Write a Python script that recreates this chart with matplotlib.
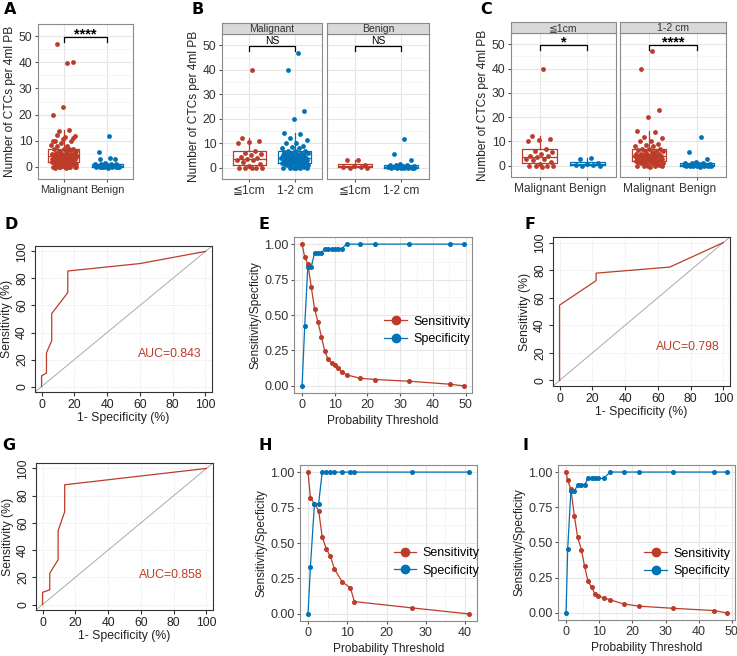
import numpy as np
import matplotlib
matplotlib.use("Agg")
import matplotlib.pyplot as plt
from matplotlib.ticker import MultipleLocator

plt.rcParams['font.family'] = ['Liberation Sans', 'DejaVu Sans']

RED = '#BC3C29'
BLUE = '#0072B5'
W, H = 737, 656

# CTC counts (per 4 ml PB)
mal_small = [39.7, 12.3, 11.0, 10.5, 10.0, 7.0, 6.2, 5.5, 5.0, 4.2, 4.0, 3.5,
             3.0, 3.0, 2.2, 1.5, 0.8, 0.0, 0.0, 0.0, 0.0, -0.3]
mal_mid = [47.0, 40.0, 23.0, 20.0, 14.3, 13.8, 12.0, 11.5, 10.0, 10.0, 9.0, 8.5,
           8.0, 8.0, 7.0, 7.0, 7.0, 6.5, 6.0, 6.0, 6.0, 5.5, 5.0, 5.0, 5.0, 5.0,
           5.0, 4.5, 4.0, 4.0, 4.0, 4.0, 4.0, 4.0, 4.0, 3.5, 3.0, 3.0, 3.0, 3.0,
           3.0, 3.0, 3.0, 2.5, 2.0, 2.0, 2.0, 2.0, 2.0, 2.0, 2.0, 1.5, 1.0, 1.0,
           1.0, 1.0, 1.0, 0.5, 0.0, 0.0, 0.0, 0.0, 0.0, -0.3]
ben_small = [3.3, 3.0, 1.0, 0.8, 0.5, 0.2, 0.0, -0.2]
ben_mid = [11.7, 5.8, 3.0, 1.4, 1.2, 1.0, 1.0, 0.9, 0.7, 0.5, 0.5, 0.4, 0.3,
           0.2, 0.1, 0.0, 0.0, 0.0, 0.0, -0.1, -0.2, -0.3]

# ROC curves: (1 - specificity, sensitivity) in %
roc_d_fpr = [0, 0, 3, 3, 6.2, 6.2, 16, 16, 60, 100]
roc_d_tpr = [0, 8, 10, 25, 34, 54, 69.5, 85.5, 91, 100]
roc_f_fpr = [0, 0, 22.3, 22.3, 67.3, 100]
roc_f_tpr = [0, 54.6, 72.4, 77.8, 82.2, 100]
roc_g_fpr = [0, 0, 4.4, 4.4, 9.5, 9.5, 13.5, 13.5, 100]
roc_g_tpr = [0, 9, 10.8, 23, 33, 54.3, 68.2, 88, 100]

# threshold curves
e_thr = [0, 0.8, 1.75, 2.8, 3.8, 4.85, 5.9, 6.9, 7.9, 9.0, 10.0, 11.0, 12.1,
         13.6, 17.8, 22.4, 32.8, 45.2, 49.5]
e_sens = [1.0, 0.908, 0.859, 0.70, 0.544, 0.452, 0.348, 0.247, 0.19, 0.16, 0.148,
          0.125, 0.10, 0.078, 0.054, 0.045, 0.033, 0.012, 0.0]
e_spec = [0.0, 0.42, 0.84, 0.84, 0.936, 0.936, 0.936, 0.967, 0.967, 0.967, 0.967,
          0.967, 0.967, 1.0, 1.0, 1.0, 1.0, 1.0, 1.0]
h_thr = [0, 0.6, 1.64, 2.7, 3.6, 4.7, 5.7, 6.7, 8.7, 10.8, 11.8, 26.6, 41.0]
h_sens = [1.0, 0.82, 0.776, 0.729, 0.544, 0.455, 0.407, 0.318, 0.226, 0.184,
          0.087, 0.042, 0.0]
h_spec = [0.0, 0.333, 0.778, 0.778, 1.0, 1.0, 1.0, 1.0, 1.0, 1.0, 1.0, 1.0, 1.0]
i_thr = [0, 0.5, 1.45, 2.5, 3.5, 4.6, 5.6, 6.6, 7.7, 8.7, 9.75, 11.3, 13.3,
         17.4, 22.1, 32.3, 44.6, 48.5]
i_sens = [1.0, 0.94, 0.88, 0.69, 0.536, 0.45, 0.33, 0.226, 0.183, 0.136, 0.121,
          0.107, 0.093, 0.064, 0.048, 0.033, 0.017, 0.0]
i_spec = [0.0, 0.455, 0.864, 0.864, 0.909, 0.909, 0.909, 0.955, 0.955, 0.955,
          0.955, 0.955, 1.0, 1.0, 1.0, 1.0, 1.0, 1.0]

fig = plt.figure(figsize=(W / 100, H / 100), dpi=100)


def px_axes(x0, y0, x1, y1):
    return fig.add_axes([x0 / W, 1 - y1 / H, (x1 - x0) / W, (y1 - y0) / H])


def gg_style(ax, fs=8.5):
    ax.set_facecolor('white')
    ax.set_axisbelow(True)
    ax.grid(which='major', color='#E6E6E6', lw=0.8)
    ax.grid(which='minor', color='#F2F2F2', lw=0.5)
    for s in ax.spines.values():
        s.set_color('#8a8a8a')
        s.set_linewidth(0.8)
    ax.tick_params(which='major', length=2.5, color='#555555', labelsize=fs,
                   labelcolor='#333333', pad=1.5)
    ax.tick_params(which='minor', length=0)


def strip(x0, x1, y0, y1, label):
    sa = px_axes(x0, y0, x1, y1)
    sa.set_facecolor('#D9D9D9')
    sa.set_xticks([])
    sa.set_yticks([])
    for s in sa.spines.values():
        s.set_color('#8a8a8a')
        s.set_linewidth(0.8)
    sa.text(0.5, 0.45, label, ha='center', va='center', fontsize=7.5,
            color='#333333', transform=sa.transAxes)


def jitter_box(ax, groups, colors, labels, show_y=True, xfs=8.6):
    for k, (vals, col) in enumerate(zip(groups, colors)):
        pos = k + 1
        ax.boxplot([vals], positions=[pos], widths=0.72, showfliers=False,
                   showcaps=False, manage_ticks=False,
                   boxprops=dict(color=col, lw=0.9),
                   medianprops=dict(color=col, lw=0.9),
                   whiskerprops=dict(color=col, lw=0.9))
        n = len(vals)
        offs = [(((i + 1) * 0.6180339887) % 1 - 0.5) * 0.6 for i in range(n)]
        ax.scatter(np.array(offs) + pos, vals, s=12, color=col, lw=0, zorder=3)
    ax.set_xlim(0.4, 2.6)
    ax.set_ylim(-4.6, 54.6)
    ax.set_xticks([1, 2])
    ax.set_xticklabels(labels)
    ax.yaxis.set_major_locator(MultipleLocator(10))
    ax.yaxis.set_minor_locator(MultipleLocator(5))
    gg_style(ax, fs=8.7)
    ax.grid(which='major', axis='x', color='#E6E6E6', lw=0.8)
    ax.tick_params(axis='x', labelsize=xfs, labelcolor='#333333')
    if not show_y:
        ax.tick_params(axis='y', labelleft=False, length=0)


def bracket(ax, text, fs=10):
    ax.plot([1, 1, 2, 2], [47.8, 49.6, 49.6, 47.8], color='black', lw=0.9)
    if text == 'NS':
        ax.text(1.5, 50.4, text, ha='center', va='baseline', fontsize=fs,
                color='black')
    else:
        ax.text(1.5, 48.9, text, ha='center', va='baseline', fontsize=fs,
                color='black', fontweight='bold')


YL = 'Number of CTCs per 4ml PB'

# A
ax = px_axes(38, 24, 133, 179)
jitter_box(ax, [mal_small + mal_mid, ben_small + ben_mid], [RED, BLUE],
           ['Malignant', 'Benign'], xfs=7.9)
bracket(ax, '****', fs=10.5)
ax.set_ylabel(YL, fontsize=8.6, color='#222222', labelpad=2)

# B
ax = px_axes(222, 34, 322, 179)
jitter_box(ax, [mal_small, mal_mid], [RED, BLUE], ['≦1cm', '1-2 cm'])
bracket(ax, 'NS', fs=7.5)
ax.set_ylabel(YL, fontsize=8.6, color='#222222', labelpad=2)
strip(222, 322, 23, 34, 'Malignant')
ax = px_axes(327, 34, 429, 179)
jitter_box(ax, [ben_small, ben_mid], [RED, BLUE], ['≦1cm', '1-2 cm'], show_y=False)
bracket(ax, 'NS', fs=7.5)
strip(327, 429, 23, 34, 'Benign')

# C
ax = px_axes(511, 33, 616, 177)
jitter_box(ax, [mal_small, ben_small], [RED, BLUE], ['Malignant', 'Benign'])
bracket(ax, '*', fs=10.5)
ax.set_ylabel(YL, fontsize=8.6, color='#222222', labelpad=2)
strip(511, 616, 22, 33, '≦1cm')
ax = px_axes(620, 33, 726, 177)
jitter_box(ax, [mal_mid, ben_mid], [RED, BLUE], ['Malignant', 'Benign'], show_y=False)
bracket(ax, '****', fs=10.5)
strip(620, 726, 22, 33, '1-2 cm')


def roc_panel(rect, fpr, tpr, auc, ty):
    ax = px_axes(*rect)
    ax.plot(fpr, tpr, color=RED, lw=0.9, zorder=3)
    ax.axline((0, 0), (100, 100), color='#AAAAAA', lw=0.7, zorder=2)
    ax.set_xlim(-4, 104)
    ax.set_ylim(-4, 104)
    ticks = [0, 20, 40, 60, 80, 100]
    ax.set_xticks(ticks)
    ax.set_yticks(ticks)
    ax.grid(color='#DDDDDD', lw=0.6, ls=':')
    ax.set_axisbelow(True)
    for s in ax.spines.values():
        s.set_color('#333333')
        s.set_linewidth(0.8)
    ax.tick_params(length=3, color='#333333', labelsize=8.8, labelcolor='#222222', pad=2)
    for lab in ax.get_yticklabels():
        lab.set_rotation(90)
        lab.set_va('center')
    ax.set_xlabel('1- Specificity (%)', fontsize=8.8, color='#222222', labelpad=1)
    ax.set_ylabel('Sensitivity (%)', fontsize=8.8, color='#222222', labelpad=2)
    ax.text(0.94, ty, 'AUC=%s' % auc, color=RED, fontsize=8.8, ha='right',
            va='center', transform=ax.transAxes)
    return ax


def thr_panel(rect, thr, sens, spec, lx, ly):
    ax = px_axes(*rect)
    ax.plot(thr, sens, color=RED, lw=0.9, marker='o', ms=2.6, label='Sensitivity', zorder=3)
    ax.plot(thr, spec, color=BLUE, lw=0.9, marker='o', ms=2.6, label='Specificity', zorder=3)
    ax.set_yticks([0, 0.25, 0.5, 0.75, 1.0])
    ax.set_yticklabels(['0.00', '0.25', '0.50', '0.75', '1.00'])
    ax.yaxis.set_minor_locator(MultipleLocator(0.125))
    ax.xaxis.set_major_locator(MultipleLocator(10))
    ax.xaxis.set_minor_locator(MultipleLocator(5))
    gg_style(ax, fs=9)
    ax.set_xlabel('Probability Threshold', fontsize=8.6, color='#222222', labelpad=3)
    ax.set_ylabel('Sensitivity/Specficity', fontsize=8.6, color='#222222', labelpad=2)
    ax.legend(loc='center left', bbox_to_anchor=(lx, ly), frameon=False,
              fontsize=9, markerscale=2.3, handlelength=1.8, handletextpad=0.5,
              labelspacing=0.45, borderaxespad=0)
    return ax


roc_panel((35, 246, 212, 392), roc_d_fpr, roc_d_tpr, '0.843', 0.26)
thr_panel((294, 237, 472, 393), e_thr, e_sens, e_spec, 0.48, 0.40)
roc_panel((553, 237, 730, 386), roc_f_fpr, roc_f_tpr, '0.798', 0.26)
roc_panel((36, 463, 213, 610), roc_g_fpr, roc_g_tpr, '0.858', 0.24)
thr_panel((300, 465, 477, 621), h_thr, h_sens, h_spec, 0.50, 0.38)
thr_panel((558, 465, 735, 620), i_thr, i_sens, i_spec, 0.46, 0.37)

for lab, x, y in [('A', 4, 14), ('B', 192, 14), ('C', 480, 14),
                  ('D', 4, 229), ('E', 258, 229), ('F', 524, 229),
                  ('G', 2, 450), ('H', 258, 450), ('I', 522, 450)]:
    fig.text(x / W, 1 - y / H, lab, fontsize=11.5, fontweight='bold', ha='left',
             va='baseline', family='DejaVu Sans')

fig.savefig('out.png', dpi=100)
